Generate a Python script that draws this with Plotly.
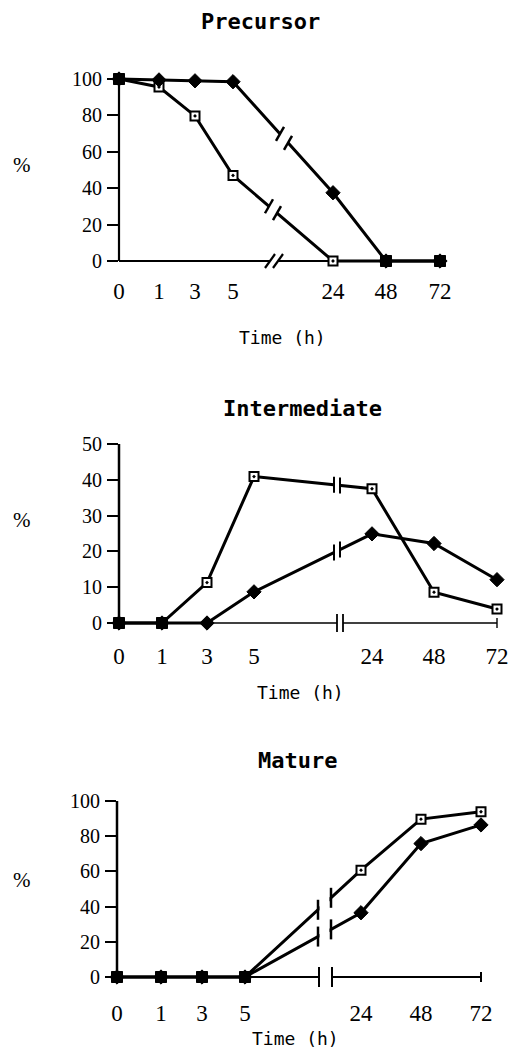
import plotly.graph_objects as go

# page is 520x1059; the browser adds an 8px body margin, so the figure is 504x1043
PAGE_W, PAGE_H = 520, 1059
OFF = 8
W, H = PAGE_W - 2 * OFF, PAGE_H - 2 * OFF

# ---------------- data ----------------
time_labels = ["0", "1", "3", "5", "24", "48", "72"]

precursor_diamond = [100, 99.5, 99, 98.5, 37.5, 0, 0]
precursor_square = [100, 95.6, 79.7, 47, 0, 0, 0]

intermediate_diamond = [0, 0, 0, 8.7, 24.9, 22.2, 12.1]
intermediate_square = [0, 0, 11.3, 40.9, 37.5, 8.6, 3.9]

mature_diamond = [0, 0, 0, 0, 36.5, 75.8, 86.4]
mature_square = [0, 0, 0, 0, 60.7, 89.7, 93.9]

yticks_pct100 = [0, 20, 40, 60, 80, 100]
yticks_pct50 = [0, 10, 20, 30, 40, 50]

panel_titles = ["Precursor", "Intermediate", "Mature"]
x_title = "Time (h)"
y_title = "%"

# ---------------- layout (page-pixel geometry of each panel) ----------------
panels = [
    dict(title=panel_titles[0], dia=precursor_diamond, sq=precursor_square, yticks=yticks_pct100,
         xpx=[119, 159, 195, 233, 333, 386, 440], yaxis_x=119, y0=261, ytop=79,
         title_pos=(260, 22), xt_pos=(282, 337), pct_pos=(22, 165), ticklab_y=290,
         xaxis_w=2.2, yaxis_w=2.2, axis_end=443, end_tick=False,
         brk="slash", brk_dia=284, brk_sq=273, brk_axis=274),
    dict(title=panel_titles[1], dia=intermediate_diamond, sq=intermediate_square, yticks=yticks_pct50,
         xpx=[119, 162, 207, 254, 372, 434, 497], yaxis_x=119, y0=623, ytop=444,
         title_pos=(302, 408), xt_pos=(300, 692), pct_pos=(22, 520), ticklab_y=655,
         xaxis_w=1.4, yaxis_w=2.5, axis_end=497, end_tick=True,
         brk="bars", brk_dia=337, brk_sq=337, brk_axis=340),
    dict(title=panel_titles[2], dia=mature_diamond, sq=mature_square, yticks=yticks_pct100,
         xpx=[117, 161, 202, 245, 361, 421, 481], yaxis_x=117, y0=977, ytop=801,
         title_pos=(297, 760), xt_pos=(295, 1045), pct_pos=(22, 880), ticklab_y=1012,
         xaxis_w=2.0, yaxis_w=2.5, axis_end=481, end_tick=True,
         brk="gap", gap=(318, 331)),
]

fig = go.Figure()
shapes = []
annotations = []
layout_axes = {}


def PX(x):
    return (x - OFF) / W


def PY(y):
    return 1 - (y - OFF) / H


def seg(x0, y0, x1, y1, w, color="black", layer="above"):
    shapes.append(dict(type="line", xref="paper", yref="paper",
                       x0=PX(x0), y0=PY(y0), x1=PX(x1), y1=PY(y1),
                       line=dict(color=color, width=w), layer=layer))


def rect(x0, y0, x1, y1, color="white"):
    shapes.append(dict(type="rect", xref="paper", yref="paper",
                       x0=PX(x0), y0=PY(y1), x1=PX(x1), y1=PY(y0),
                       line=dict(width=0), fillcolor=color, layer="above"))


def text(s, x, y, family, size, bold=False):
    bottom = PAGE_H - OFF
    if y + 0.55 * size > bottom:
        yy, anchor = bottom, "bottom"
    else:
        yy, anchor = y, "middle"
    annotations.append(dict(text=f"<b>{s}</b>" if bold else s, x=PX(x), y=PY(yy),
                            xref="paper", yref="paper",
                            xanchor="center", yanchor=anchor, showarrow=False,
                            font=dict(family=family, size=size, color="black")))


for i, p in enumerate(panels, start=1):
    sfx = "" if i == 1 else str(i)
    xa, ya = "x" + sfx, "y" + sfx
    ymax = p["yticks"][-1]
    ppu = (p["y0"] - p["ytop"]) / ymax
    xl, xr = p["yaxis_x"], PAGE_W - OFF
    yt, yb = p["ytop"] - 16, p["y0"] + 10

    def vy(v, p=p, ppu=ppu):
        return p["y0"] - v * ppu

    def line_y(vals, x, p=p, vy=vy):
        xa_, xb_ = p["xpx"][3], p["xpx"][4]
        ya_, yb_ = vy(vals[3]), vy(vals[4])
        return ya_ + (yb_ - ya_) * (x - xa_) / (xb_ - xa_)

    # lines
    for vals in (p["dia"], p["sq"]):
        fig.add_trace(go.Scatter(x=p["xpx"], y=vals, mode="lines",
                                 line=dict(color="black", width=3),
                                 xaxis=xa, yaxis=ya, showlegend=False, hoverinfo="skip",
                                 cliponaxis=False))
    # markers
    fig.add_trace(go.Scatter(x=p["xpx"], y=p["sq"], mode="markers",
                             marker=dict(symbol="square-dot", size=9, color="white",
                                         line=dict(color="black", width=2)),
                             xaxis=xa, yaxis=ya, showlegend=False, cliponaxis=False))
    fig.add_trace(go.Scatter(x=p["xpx"], y=p["dia"], mode="markers",
                             marker=dict(symbol="diamond", size=11, color="black",
                                         line=dict(color="black", width=1)),
                             xaxis=xa, yaxis=ya, showlegend=False, cliponaxis=False))
    both = [k for k in range(len(time_labels)) if p["dia"][k] == p["sq"][k]]
    fig.add_trace(go.Scatter(x=[p["xpx"][k] for k in both], y=[p["sq"][k] for k in both],
                             mode="markers",
                             marker=dict(symbol="square", size=11, color="black",
                                         line=dict(color="black", width=1)),
                             xaxis=xa, yaxis=ya, showlegend=False, cliponaxis=False))

    f_x = 23
    layout_axes["xaxis" + sfx] = dict(
        domain=[PX(xl), PX(xr)], range=[xl, xr], anchor=ya,
        tickvals=p["xpx"], ticktext=time_labels, ticks="",
        showgrid=False, zeroline=False, showline=False, automargin=False,
        ticklabelstandoff=max(0, int(p["ticklab_y"] - yb - 0.5 * f_x - 3)),
        tickfont=dict(family="Liberation Serif", size=f_x, color="black"), fixedrange=True)
    layout_axes["yaxis" + sfx] = dict(
        domain=[PY(yb), PY(yt)], range=[(p["y0"] - yb) / ppu, (p["y0"] - yt) / ppu],
        anchor=xa, tickvals=p["yticks"], ticks="outside", ticklen=11, tickwidth=2,
        tickcolor="black", showgrid=False, zeroline=False, showline=False, automargin=False,
        ticklabelstandoff=1,
        tickfont=dict(family="Liberation Serif", size=20, color="black"), fixedrange=True)

    # y axis line
    seg(xl, p["y0"], xl, p["ytop"], p["yaxis_w"], layer="below")

    y0 = p["y0"]
    if p["brk"] == "slash":
        c = p["brk_axis"]
        seg(xl, y0, c - 4, y0, p["xaxis_w"], layer="below")
        seg(c + 4, y0, p["axis_end"], y0, p["xaxis_w"], layer="below")
        for cx in (c - 4, c + 4):
            seg(cx - 5, y0 + 7, cx + 5, y0 - 7, 2.2)
        for vals, c in ((p["dia"], p["brk_dia"]), (p["sq"], p["brk_sq"])):
            seg(c - 4, line_y(vals, c - 4), c + 4, line_y(vals, c + 4), 7, color="white")
            for cx in (c - 4, c + 4):
                cy = line_y(vals, cx)
                seg(cx - 4, cy + 7, cx + 4, cy - 7, 2.5)
    elif p["brk"] == "bars":
        c = p["brk_axis"]
        seg(xl, y0, c - 3, y0, p["xaxis_w"], layer="below")
        seg(c + 3, y0, p["axis_end"], y0, p["xaxis_w"], layer="below")
        for cx in (c - 3, c + 3):
            seg(cx, y0 - 9, cx, y0 + 9, 1.8)
        for vals, c in ((p["dia"], p["brk_dia"]), (p["sq"], p["brk_sq"])):
            seg(c - 3, line_y(vals, c - 3), c + 3, line_y(vals, c + 3), 7, color="white")
            for cx in (c - 3, c + 3):
                cy = line_y(vals, cx)
                seg(cx, cy - 8, cx, cy + 8, 2)
    else:
        g0, g1 = p["gap"]
        rect(g0 + 1.5, p["ytop"] - 10, g1 - 1.5, y0 + 15)
        seg(xl, y0, g0, y0, p["xaxis_w"], layer="below")
        seg(g1, y0, p["axis_end"], y0, p["xaxis_w"], layer="below")
        for cx in (g0 + 1, g1 + 1):
            seg(cx, y0 - 10, cx, y0 + 10, 2)
        for vals in (p["dia"], p["sq"]):
            for cx in (g0, g1):
                cy = line_y(vals, cx)
                seg(cx, cy - 10, cx, cy + 10, 2.5)
    if p["end_tick"]:
        seg(p["axis_end"], y0 - 5, p["axis_end"], y0 + 5, p["xaxis_w"])

    text(p["title"], *p["title_pos"], "DejaVu Sans Mono", 22, bold=True)
    text(x_title, *p["xt_pos"], "DejaVu Sans Mono", 18)
    text(y_title, *p["pct_pos"], "Liberation Serif", 21)

fig.update_layout(
    width=W, height=H, autosize=False,
    margin=dict(l=0, r=0, t=0, b=0, pad=0),
    paper_bgcolor="white", plot_bgcolor="white",
    template="none", showlegend=False,
    shapes=shapes, annotations=annotations,
    **layout_axes,
)

fig.write_html("out.html")
